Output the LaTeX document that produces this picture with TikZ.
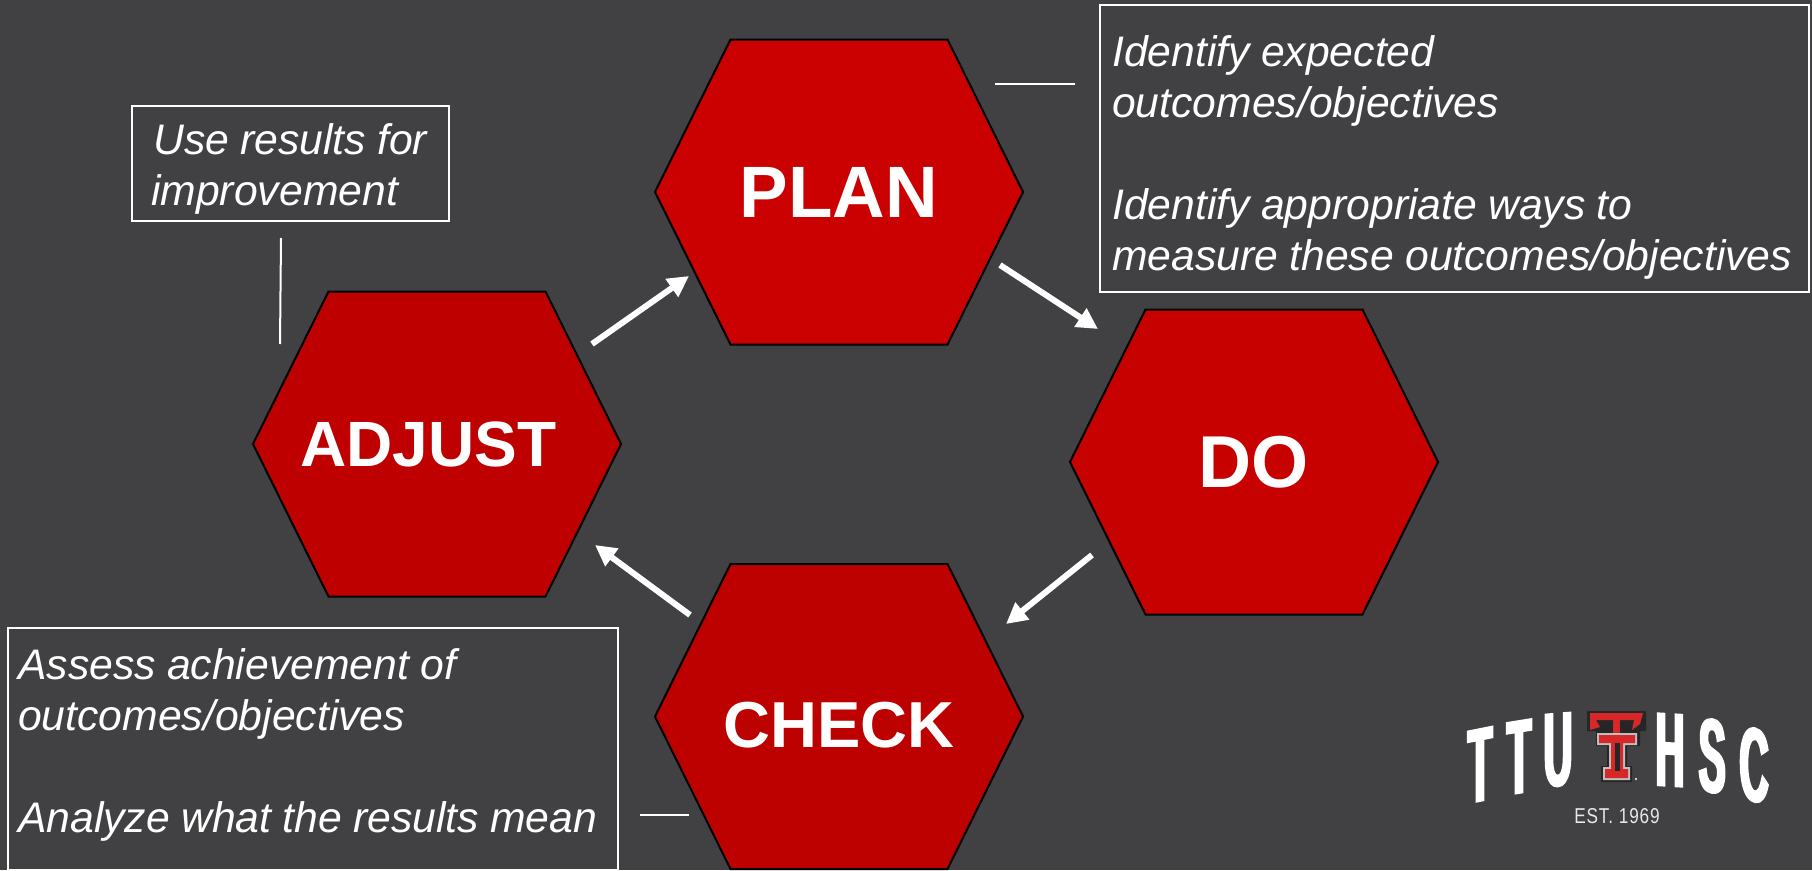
\documentclass[tikz,border=0pt]{standalone}
\usepackage{fontspec}
\setmainfont[WordSpace=0.95]{Liberation Sans}
\newfontfamily\logofont[FakeStretch=0.38,FakeBold=5]{Liberation Sans}
\newfontfamily\estfont[FakeStretch=0.8,LetterSpace=4]{Liberation Sans}
\usepackage{tikz}
\usetikzlibrary{arrows.meta}
\definecolor{slate}{RGB}{65,64,66}
\definecolor{plancol}{RGB}{203,0,0}
\definecolor{docol}{RGB}{199,0,0}
\definecolor{checkcol}{RGB}{189,0,0}
\definecolor{adjustcol}{RGB}{191,0,0}
\definecolor{logored}{RGB}{214,40,40}
\tikzset{
	hexshape/.style={draw=black,line width=2pt,line join=miter},
	hexlabel/.style={text=white,inner sep=0pt},
	notebox/.style={draw=white,line width=2pt,anchor=north west,inner sep=0pt},
	notetext/.style={anchor=west,align=left,inner sep=0pt,text=white,font=\fontsize{42.7}{51}\selectfont\itshape},
	flowarrow/.style={draw=white,line width=6pt,-{Triangle[length=21pt,width=21pt]}},
	tieline/.style={draw=white,line width=2pt},
	logoletter/.style={text=white,font=\logofont\fontsize{100}{100}\selectfont,inner sep=0pt,transform shape}
}
\begin{document}
\begin{tikzpicture}[x=1pt,y=-1pt]
	\useasboundingbox[fill=slate] (0,0) rectangle (1812,870);
	% hexagons
	\foreach \name/\cx/\cy/\tx/\ty/\size/\col/\txt in {plan/839/192/839/192/72.8/plancol/PLAN,do/1254/462/1254/462/73.5/docol/DO,check/839/716.5/839/725.5/65/checkcol/CHECK,adjust/437/444/428.5/444/64/adjustcol/ADJUST}{
		\draw[hexshape,fill=\col,shift={(\cx,\cy)}] (-184,0) -- (-108.5,-152.5) -- (108.5,-152.5) -- (184,0) -- (108.5,152.5) -- (-108.5,152.5) -- cycle;
		\node[hexlabel,font=\fontsize{\size}{\size}\selectfont\bfseries] (\name) at (\tx,\ty) {\txt};
	}
	% arrows
	\draw[flowarrow] ([shift={(163.5,-100)}]adjust.center) -- ([shift={(-150,84)}]plan.center);
	\draw[flowarrow] ([shift={(161,73)}]plan.center) -- ([shift={(-156,-133)}]do.center);
	\draw[flowarrow] ([shift={(-162,93)}]do.center) -- ([shift={(167,-101.5)}]check.center);
	\draw[flowarrow] ([shift={(-149,-110.5)}]check.center) -- ([shift={(166.5,101)}]adjust.center);
	% notes
	\node[notebox,minimum width=709pt,minimum height=287pt] (planbox) at (1099,4) {};
	\node[notetext] (plantext) at (1112,157.5) {Identify expected\\outcomes/objectives\\[51pt]Identify appropriate ways to\\measure these outcomes/objectives};
	\node[notebox,minimum width=317pt,minimum height=115pt] (adjustbox) at (131,105) {};
	\node[notetext] (adjusttext) at (143,169) {\hspace*{10pt}Use results for\\\hspace*{8pt}improvement};
	\node[notebox,minimum width=610pt,minimum height=242pt] (checkbox) at (7,627) {};
	\node[notetext] (checktext) at (18,745) {Assess achievement of\\outcomes/objectives\\[51pt]Analyze what the results mean};
	% ties
	\coordinate (plantie) at (995,84);
	\coordinate (adjusttie) at (280,344);
	\coordinate (checktie) at (689,815);
	\draw[tieline] (plantie) -- ++(80,0);
	\draw[tieline] (adjusttie) -- ++(1,-106);
	\draw[tieline] (checktie) -- ++(-49,0);
	% logo letters
	\foreach \name/\cx/\cy/\sl/\ltr in {ta/1480/765/0.2/T,tb/1519/757/0.16/T,u/1558/750/0.08/U,h/1670/750/-0.06/H,s/1712/756/-0.14/S,c/1754/765/-0.2/C}{
		\node[logoletter,yslant=\sl] (\name) at (\cx,\cy) {\ltr};
	}
	\node[text=white!88!slate,font=\estfont\fontsize{21.5}{22}\selectfont,inner sep=0pt] (est) at (1617,816) {EST. 1969};
	% double T
	\fill[black!85] (1587,711) -- (1646,711) -- (1646,731) -- (1640,731) -- (1640,746) -- (1627,746) -- (1627,766) -- (1632,766) -- (1632,782) -- (1601,782) -- (1601,766) -- (1607,766) -- (1607,746) -- (1596,746) -- (1596,731) -- (1587,731) -- cycle;
	\fill[logored] (1590,713) -- (1643,713) -- (1640,724) -- (1632,730) -- (1634,720) -- (1596,720) -- (1600,727) -- (1590,730) -- cycle;
	\fill[black!25] (1597,733) -- (1637,733) -- (1637,745) -- (1625,745) -- (1625,767) -- (1630,767) -- (1630,780) -- (1603,780) -- (1603,767) -- (1609,767) -- (1609,745) -- (1597,745) -- cycle;
	\fill[logored] (1599,735) -- (1635,735) -- (1635,743) -- (1623,743) -- (1623,769) -- (1628,769) -- (1628,778) -- (1605,778) -- (1605,769) -- (1611,769) -- (1611,743) -- (1599,743) -- cycle;
	\fill[black!85] (1615,743) rectangle (1620,771);
	\fill[logored] (1613,720) rectangle (1620,733);
	\fill[white] (1636,779) circle (1.2);
\end{tikzpicture}
\end{document}
